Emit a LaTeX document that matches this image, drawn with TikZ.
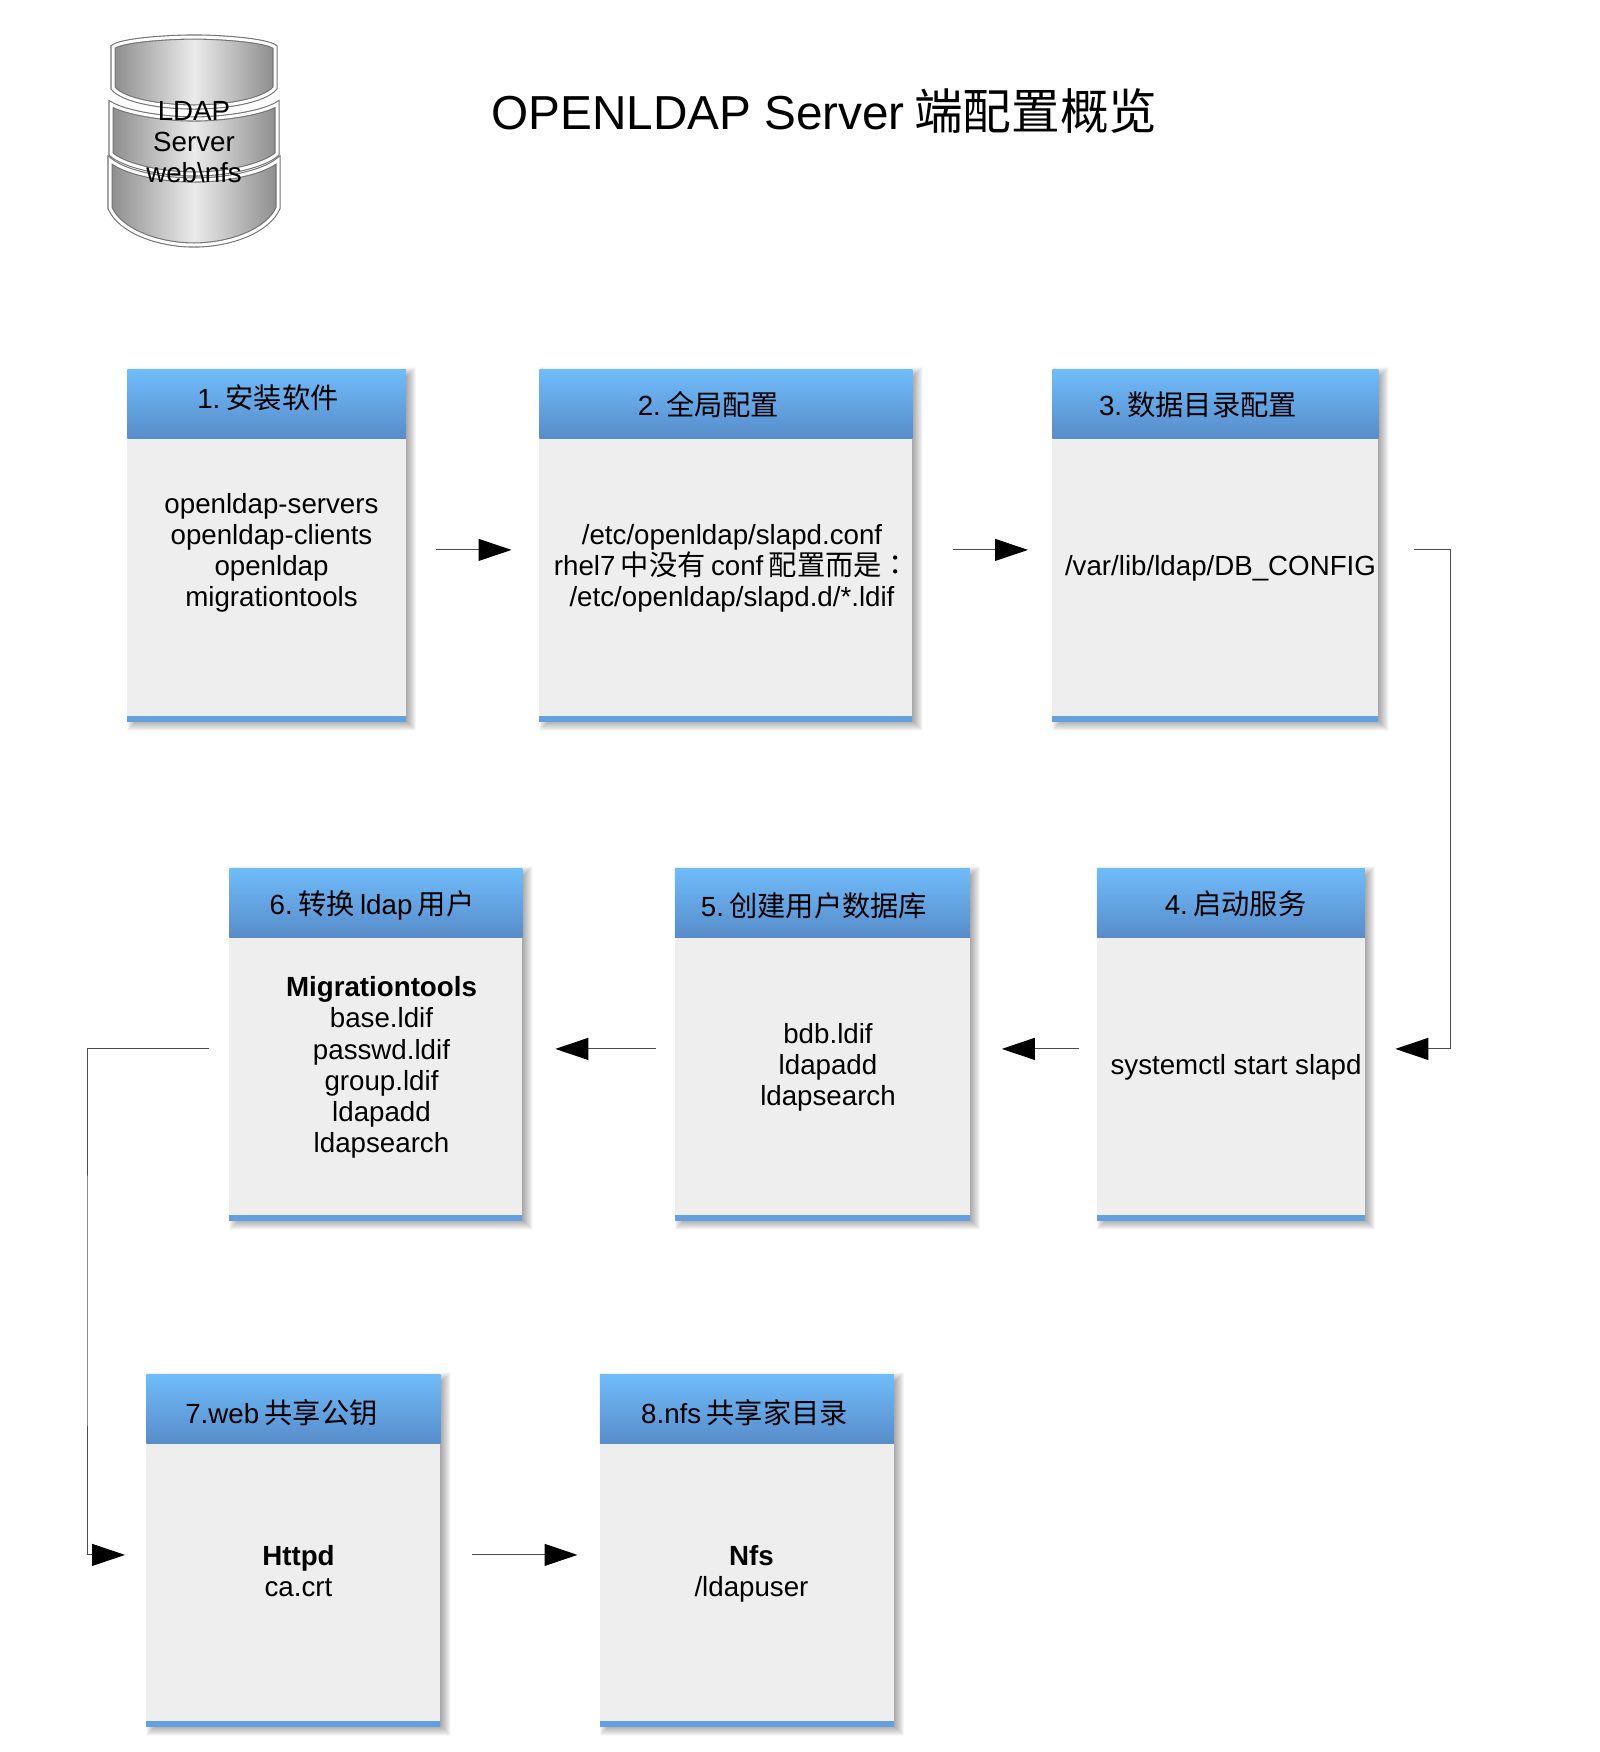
\documentclass[tikz,border=0pt]{standalone}
\usepackage{fontspec}
\setmainfont{Liberation Sans}
\newfontfamily\cjk[WordSpace=0.85,Scale=1.02]{Noto Sans CJK SC}
\newfontfamily\cjktc[Scale=1.02]{Noto Sans CJK TC}
\usetikzlibrary{arrows.meta, backgrounds}
\definecolor{headtop}{RGB}{112,188,250}
\definecolor{headbot}{RGB}{88,140,202}
\definecolor{bandcol}{RGB}{100,160,222}
\definecolor{bodycol}{RGB}{238,238,239}
\tikzset{
  bodytext/.style={font=\fontsize{13.85}{15.6}\selectfont, align=center, inner sep=0pt, text=black},
  titletext/.style={font=\fontsize{23.85}{28}\selectfont, inner sep=0pt, text=black},
  boxbody/.style={fill=bodycol, inner sep=0pt, anchor=north west},
  rowa/.style={minimum height=176.5pt},
  rowb/.style={minimum height=176.5pt},
  rowc/.style={minimum height=176.5pt},
  boxhead/.style={top color=headtop, bottom color=headbot, inner sep=0pt, anchor=north west, minimum height=34.5pt},
  boxband/.style={fill=bandcol, inner sep=0pt, anchor=south west, minimum height=3pt},
  flow/.style={draw=black!70, line width=0.5pt, -{Triangle[length=16.5pt,width=11pt,black]}},
  disc/.style={left color=black!45, right color=black!45, middle color=black!8, draw=black!55, double=white, double distance=1.5pt, line width=0.55pt},
}
\begin{document}
\begin{tikzpicture}[x=0.5pt,y=-0.5pt]
\useasboundingbox (0,0) rectangle (1600,1752);

% database
\path[disc] (110,160) .. controls (124,172) and (160,180) .. (194,180) .. controls (228,180) and (264,172) .. (278,160) -- (278,208) .. controls (268,231) and (230,245) .. (194,245) .. controls (158,245) and (120,231) .. (110,208) -- cycle;
\path[disc] (111,104) .. controls (126,113) and (165,119) .. (194,119) .. controls (223,119) and (263,113) .. (277,104) -- (277,154) .. controls (265,165) and (229,174) .. (194,174) .. controls (159,174) and (123,165) .. (111,154) -- cycle;
\path[disc] (113,47) .. controls (121,40) and (170,37) .. (194,37) .. controls (218,37) and (266,40) .. (275,47) -- (275,88) .. controls (264,101) and (225,107) .. (194,107) .. controls (163,107) and (123,101) .. (113,88) -- cycle;
\node[bodytext] (db) at (194,142) {LDAP\\Server\\web\textbackslash nfs};

\node[titletext, anchor=west] (title) at (491,111) {OPENLDAP Server{\cjk\ 端配置概览}};

% first row
\node[boxbody, rowa, minimum width=139.25pt] (b1) at (127,369) {};
\node[boxhead, minimum width=139.25pt] (h1) at (127,369) {};
\node[boxband, minimum width=139.25pt] (e1) at (127,722) {};
\node[bodytext] (n1) at (268,397.5) {1.{\cjk\ 安装软件}};
\node[bodytext] (t1) at (271.5,553) {openldap-servers\\openldap-clients\\openldap\\migrationtools};

\node[boxbody, rowa, minimum width=186.5pt] (b2) at (539,369) {};
\node[boxhead, minimum width=186.5pt] (h2) at (539,369) {};
\node[boxband, minimum width=186.5pt] (e2) at (539,722) {};
\node[bodytext] (n2) at (708.5,404.5) {2.{\cjk\ 全局配置}};
\node[bodytext] (t2) at (732,568.5) {/etc/openldap/slapd.conf\\rhel7{\cjk\ 中没有\ }conf{\cjk\ 配置而是}{\cjktc ：}\\/etc/openldap/slapd.d/*.ldif};

\node[boxbody, rowa, minimum width=163pt] (b3) at (1052,369) {};
\node[boxhead, minimum width=163pt] (h3) at (1052,369) {};
\node[boxband, minimum width=163pt] (e3) at (1052,722) {};
\node[bodytext] (n3) at (1198,404.5) {3.{\cjk\ 数据目录配置}};
\node[bodytext] (t3) at (1220.5,568.5) {/var/lib/ldap/DB\_CONFIG};

% second row
\node[boxbody, rowb, minimum width=134pt] (b4) at (1096.5,868) {};
\node[boxhead, minimum width=134pt] (h4) at (1096.5,868) {};
\node[boxband, minimum width=134pt] (e4) at (1096.5,1221) {};
\node[bodytext] (n4) at (1235.5,903.5) {4.{\cjk\ 启动服务}};
\node[bodytext] (t4) at (1236,1067.5) {systemctl start slapd};

\node[boxbody, rowb, minimum width=147.5pt] (b5) at (674.5,868) {};
\node[boxhead, minimum width=147.5pt] (h5) at (674.5,868) {};
\node[boxband, minimum width=147.5pt] (e5) at (674.5,1221) {};
\node[bodytext] (n5) at (814,905.5) {5.{\cjk\ 创建用户数据库}};
\node[bodytext] (t5) at (828,1067.5) {bdb.ldif\\ldapadd\\ldapsearch};

\node[boxbody, rowb, minimum width=146.5pt] (b6) at (229,868) {};
\node[boxhead, minimum width=146.5pt] (h6) at (229,868) {};
\node[boxband, minimum width=146.5pt] (e6) at (229,1221) {};
\node[bodytext] (n6) at (372,905.5) {6.{\cjk\ 转换\ }ldap{\cjk\ 用户}};
\node[bodytext] (t6) at (381.5,1067.5) {\textbf{Migrationtools}\\base.ldif\\passwd.ldif\\group.ldif\\ldapadd\\ldapsearch};

% third row
\node[boxbody, rowc, minimum width=147pt] (b7) at (146,1374) {};
\node[boxhead, minimum width=147pt] (h7) at (146,1374) {};
\node[boxband, minimum width=147pt] (e7) at (146,1727) {};
\node[bodytext] (n7) at (281.5,1412.5) {7.web{\cjk\ 共享公钥}};
\node[bodytext] (t7) at (298.5,1571) {\textbf{Httpd}\\ca.crt};

\node[boxbody, rowc, minimum width=147pt] (b8) at (599.5,1374) {};
\node[boxhead, minimum width=147pt] (h8) at (599.5,1374) {};
\node[boxband, minimum width=147pt] (e8) at (599.5,1727) {};
\node[bodytext] (n8) at (744.5,1412.5) {8.nfs{\cjk\ 共享家目录}};
\node[bodytext] (t8) at (751.5,1573.5) {\textbf{Nfs}\\/ldapuser};

% shadows
\begin{pgfonlayer}{background}
\foreach \n in {b1,b2,b3,b4,b5,b6,b7,b8}
  \foreach \s in {-2.5,-2.25,...,2.5}
    \fill[black, opacity=0.021] ([xshift=2.5pt+\s pt,yshift=-1.5pt-\s pt]\n.south east) rectangle ([xshift=2.5pt-\s pt,yshift=-1.5pt+\s pt]\n.north west);
\end{pgfonlayer}

% connectors
\coordinate (righttrack) at (1450.5,800);
\coordinate (lefttrack) at (87,1300);
\draw[flow, shorten <=14.75pt, shorten >=13.75pt] ([yshift=-2pt]b1.east) -- ([yshift=-2pt]b2.west);
\draw[flow, shorten <=20pt, shorten >=12pt] ([yshift=-2pt]b2.east) -- ([yshift=-2pt]b3.west);
\draw[flow, shorten <=17.5pt, shorten >=15pt] ([yshift=-2pt]b3.east) -| (righttrack) |- ([yshift=-2pt]b4.east);
\draw[flow, shorten <=9pt, shorten >=15.75pt] ([yshift=-2pt]b4.west) -- ([yshift=-2pt]b5.east);
\draw[flow, shorten <=9.5pt, shorten >=16.25pt] ([yshift=-2pt]b5.west) -- ([yshift=-2pt]b6.east);
\draw[flow, shorten <=10pt, shorten >=10.5pt] ([yshift=-2pt]b6.west) -| (lefttrack) |- ([yshift=-2pt]b7.west);
\draw[flow, shorten <=15.5pt, shorten >=11pt] ([yshift=-2pt]b7.east) -- ([yshift=-2pt]b8.west);
\end{tikzpicture}
\end{document}
